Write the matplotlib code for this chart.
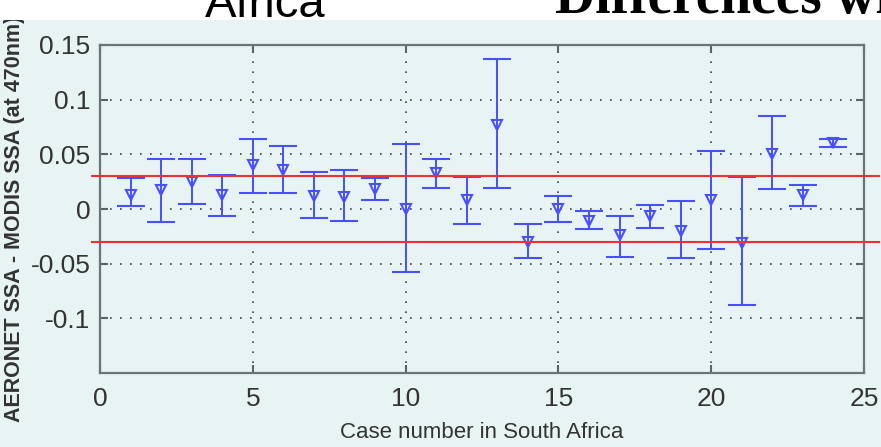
import numpy as np
import matplotlib
matplotlib.use('Agg')
import matplotlib.pyplot as plt
from matplotlib.patches import Rectangle

# values
case_no = np.arange(1, 25)
ssa_diff = [0.013, 0.017, 0.025, 0.013, 0.040, 0.036, 0.012, 0.011, 0.018, 0.000,
            0.033, 0.008, 0.077, -0.030, 0.000, -0.011, -0.024, -0.006, -0.020, 0.008,
            -0.031, 0.050, 0.013, 0.060]
err_top = [0.028, 0.046, 0.046, 0.031, 0.064, 0.058, 0.034, 0.036, 0.028, 0.059,
           0.046, 0.029, 0.137, -0.014, 0.012, -0.002, -0.006, 0.004, 0.007, 0.053,
           0.029, 0.085, 0.022, 0.064]
err_bot = [0.003, -0.012, 0.005, -0.006, 0.015, 0.015, -0.008, -0.011, 0.008, -0.058,
           0.019, -0.014, 0.019, -0.045, -0.012, -0.018, -0.044, -0.017, -0.045, -0.037,
           -0.088, 0.018, 0.003, 0.057]
threshold = 0.03
xticks = [0, 5, 10, 15, 20, 25]
yticks = [-0.1, -0.05, 0, 0.05, 0.1, 0.15]
ytick_labels = ['-0.1', '-0.05', '0', '0.05', '0.1', '0.15']

bg = '#e8f4f4'
blue = '#4650ff'
red = '#ee3030'
sans = ['Liberation Sans', 'DejaVu Sans']

fig = plt.figure(figsize=(8.81, 4.47), dpi=100, facecolor=bg)
# white strip on top where the slide titles sit (cut off)
fig.patches.append(Rectangle((0, 1 - 20 / 447.), 1, 20 / 447., transform=fig.transFigure,
                             facecolor='white', edgecolor='none', zorder=0))
fig.text(205 / 881., 1 - 17 / 447., 'Africa', fontsize=34, family=sans,
         va='baseline', ha='left', color='black')
fig.text(555 / 881., 1 - 13 / 447., 'Differences wi', fontsize=40, family='Liberation Serif',
         fontweight='bold', va='baseline', ha='left', color='black')

ax = fig.add_axes([100 / 881., 1 - 373 / 447., 764 / 881., 328 / 447.])
ax.set_facecolor(bg)

y = np.array(ssa_diff)
yerr = [y - np.array(err_bot), np.array(err_top) - y]
ax.errorbar(case_no, y, yerr=yerr, fmt='v', color=blue, mfc='none', mec=blue, ms=7,
            mew=1.5, elinewidth=1.4, capsize=10, capthick=1.4, zorder=3)

ax.set_xlim(0, 25)
ax.set_ylim(-0.15, 0.15)
x0, x1 = ax.get_xlim()
for t in (threshold, -threshold):
    ax.plot([x0 - 0.25, x1 + 0.5], [t, t], color=red, lw=1.5, clip_on=False, zorder=4)

ax.set_xticks(xticks)
ax.set_yticks(yticks)
ax.set_yticklabels(ytick_labels)
ax.grid(True, linestyle=(0, (1, 5)), color='#404040', lw=1.2)
ax.set_axisbelow(True)
ax.tick_params(direction='in', length=6, width=1.5, top=True, right=True,
               colors='#5a6666', labelcolor='#333333', labelsize=19)
ax.tick_params(axis='y', pad=7)
ax.tick_params(axis='x', pad=10)
for lab in ax.get_xticklabels() + ax.get_yticklabels():
    lab.set_family(sans)
for s in ax.spines.values():
    s.set_color('#6a7676')
    s.set_linewidth(1.6)

ax.set_xlabel('Case number in South Africa', fontsize=16, family=sans,
              color='#333333', labelpad=8)
ax.set_ylabel('AERONET SSA - MODIS SSA (at 470nm)', fontsize=15.5, fontweight='bold',
              family=sans, color='#333333', va='center')
ax.yaxis.set_label_coords(-85 / 764., 0.47)

plt.savefig('out.png', dpi=100, facecolor=fig.get_facecolor())
